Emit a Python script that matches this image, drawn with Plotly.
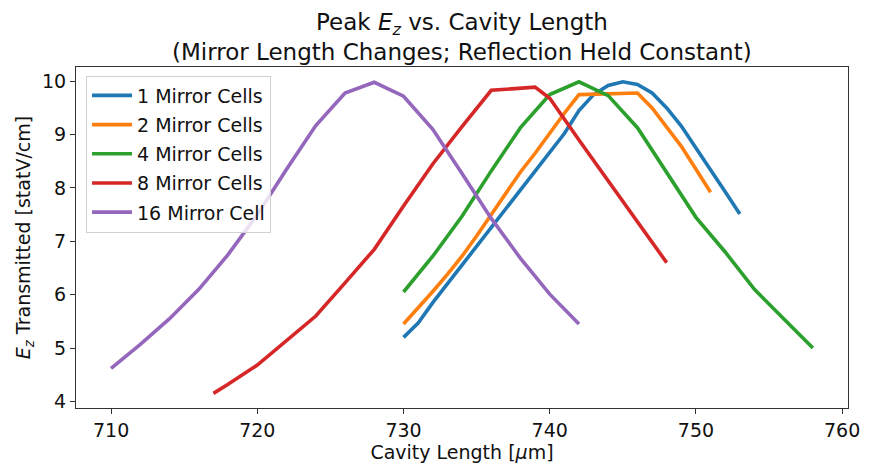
import plotly.graph_objects as go

# Cavity length [um] and peak transmitted Ez [statV/cm] for each mirror configuration
x_1 = [730, 731, 732, 733, 734, 735, 736, 737, 738, 739, 740, 741, 742, 743, 744,
       745, 746, 747, 748, 749, 750, 751, 752, 753]
y_1 = [5.20, 5.47, 5.85, 6.20, 6.55, 6.90, 7.25, 7.60, 7.95, 8.30, 8.65, 9.02, 9.45,
       9.75, 9.92, 9.99, 9.94, 9.78, 9.50, 9.16, 8.75, 8.35, 7.93, 7.51]

x_2 = [730, 731, 732, 733, 734, 735, 736, 737, 738, 739, 740, 741, 742, 744, 746,
       747, 748, 749, 750, 751]
y_2 = [5.45, 5.75, 6.06, 6.38, 6.72, 7.10, 7.50, 7.90, 8.30, 8.65, 9.03, 9.40, 9.75,
       9.76, 9.78, 9.50, 9.15, 8.78, 8.35, 7.92]

x_4 = [730, 732, 734, 736, 738, 740, 742, 744, 746, 748, 750, 752, 754, 756, 758]
y_4 = [6.05, 6.72, 7.47, 8.32, 9.13, 9.75, 9.99, 9.73, 9.13, 8.30, 7.45, 6.80, 6.10,
       5.55, 5.00]

x_8 = [717, 718, 720, 722, 724, 726, 728, 730, 732, 734, 736, 739, 740, 742, 744,
       746, 748]
y_8 = [4.15, 4.32, 4.68, 5.15, 5.60, 6.22, 6.85, 7.66, 8.45, 9.15, 9.83, 9.89, 9.68,
       8.90, 8.13, 7.37, 6.60]

x_16 = [710, 712, 714, 716, 718, 720, 722, 724, 726, 728, 730, 732, 734, 736, 738,
        740, 742]
y_16 = [4.62, 5.07, 5.55, 6.10, 6.75, 7.50, 8.35, 9.17, 9.78, 9.98, 9.72, 9.10, 8.27,
        7.43, 6.68, 6.01, 5.45]

labels = ["1 Mirror Cells", "2 Mirror Cells", "4 Mirror Cells", "8 Mirror Cells",
          "16 Mirror Cell"]
colors = ["#1f77b4", "#ff7f0e", "#2ca02c", "#d62728", "#9467bd"]
series = [(x_1, y_1), (x_2, y_2), (x_4, y_4), (x_8, y_8), (x_16, y_16)]

x_ticks = [710, 720, 730, 740, 750, 760]
y_ticks = [4, 5, 6, 7, 8, 9, 10]

title_lines = ["Peak <i>E<sub>z</sub></i> vs. Cavity Length",
               "(Mirror Length Changes; Reflection Held Constant)"]

font_family = "DejaVu Sans"
base_size = 19
ink = "#111111"

fig = go.Figure()
for (xs, ys), name, color in zip(series, labels, colors):
    fig.add_trace(go.Scatter(x=xs, y=ys, mode="lines", name=name, legendgroup=name,
                             line=dict(color=color, width=3.6)))

axis_common = dict(
    showline=True, linecolor="#333333", linewidth=1.2, mirror=True,
    ticks="outside", ticklen=5, tickwidth=1.2, tickcolor="#333333",
    showgrid=False, zeroline=False,
    tickfont=dict(family=font_family, size=base_size, color=ink),
)

# Two-line title placed above the plotting area
for text, ypos in zip(title_lines, [1.125, 1.044]):
    fig.add_annotation(text=text, x=0.5, y=ypos, xref="paper", yref="paper",
                       xanchor="center", yanchor="middle", showarrow=False,
                       font=dict(family=font_family, size=23, color=ink))

fig.update_layout(
    width=872, height=469,
    margin=dict(l=76, r=13, t=67, b=57),
    paper_bgcolor="white", plot_bgcolor="white",
    font=dict(family=font_family, color=ink),
    xaxis=dict(range=[707.6, 760.4], tickvals=x_ticks,
               title=dict(text="Cavity Length [<i>μ</i>m]", standoff=3,
                          font=dict(family=font_family, size=base_size)),
               **axis_common),
    yaxis=dict(range=[3.876, 10.267], tickvals=y_ticks,
               title=dict(text="<i>E<sub>z</sub></i> Transmitted [statV/cm]", standoff=6,
                          font=dict(family=font_family, size=base_size)),
               **axis_common),
    legend=dict(
        x=0.013, y=0.975, xanchor="left", yanchor="top",
        bgcolor="rgba(255,255,255,0.8)", bordercolor="#d0d0d0", borderwidth=1,
        font=dict(family=font_family, size=base_size, color=ink),
        tracegroupgap=1.5, itemwidth=40,
    ),
    showlegend=True,
)

fig.write_html("out.html")
